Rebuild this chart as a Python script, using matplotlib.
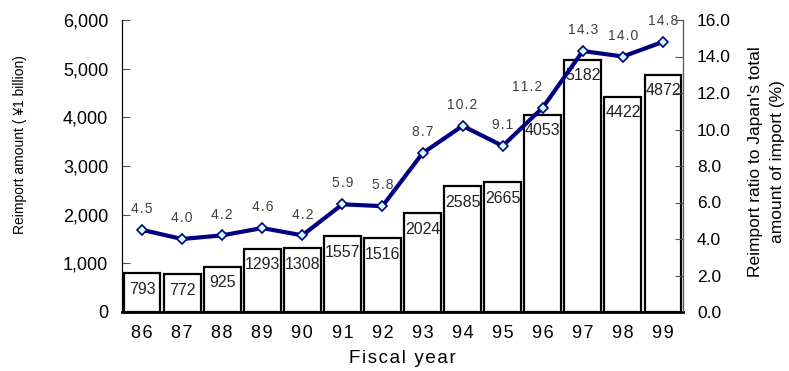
import matplotlib
matplotlib.use("Agg")
import matplotlib.pyplot as plt
import numpy as np

plt.rcParams['font.family'] = ['Liberation Sans', 'DejaVu Sans']

years = ['86', '87', '88', '89', '90', '91', '92', '93', '94', '95', '96', '97', '98', '99']
amounts = [793, 772, 925, 1293, 1308, 1557, 1516, 2024, 2585, 2665, 4053, 5182, 4422, 4872]
ratios = [4.5, 4.0, 4.2, 4.6, 4.2, 5.9, 5.8, 8.7, 10.2, 9.1, 11.2, 14.3, 14.0, 14.8]


def spaced(s, sp='\u200a'):
    return sp.join(s)


fig = plt.figure(figsize=(7.89, 3.71), dpi=100)
ax = fig.add_axes([122/789, 59/371, (683-122)/789, (312-20)/371])
x = np.arange(len(years))
bars = ax.bar(x, amounts, width=0.92, color='white', edgecolor='black', linewidth=1.6)
for xi, v in zip(x, amounts):
    ax.annotate(str(v), (xi, v), xytext=(0, -6), textcoords='offset points',
                ha='center', va='top', fontsize=11.5, color='#222222')
ax.set_xlim(-0.5, len(years) - 0.5)
ax.set_ylim(0, 6000)
ax.set_yticks(range(0, 6001, 1000))
ax.set_yticklabels([f'{v:,}' for v in range(0, 6001, 1000)], fontsize=13)
ax.set_xticks(x)
ax.set_xticklabels([spaced(y) for y in years], fontsize=13)
ax.tick_params(axis='x', length=0, pad=9)
ax.tick_params(axis='y', direction='in', length=6, color='#555555', pad=10)
ax.spines['top'].set_visible(False)
ax.spines['left'].set_color('#555555')
ax.spines['bottom'].set_linewidth(2)
ax.set_xlabel(spaced('Fiscal year'), fontsize=13.5, labelpad=6)
ax.set_ylabel('Reimport amount ( \u00a51 billion)', fontsize=10)
ax.yaxis.set_label_coords(-0.169, 0.572)

ax2 = ax.twinx()
ax2.plot(x, ratios, color='#000080', linewidth=3, marker='D', markersize=5,
         markerfacecolor='#ccffff', markeredgecolor='#000080', markeredgewidth=1.2)
for i, (xi, r) in enumerate(zip(x, ratios)):
    dx = -11 if i == 10 else 0
    ax2.annotate(spaced(f'{r:.1f}'), (xi, r), xytext=(dx, 15), textcoords='offset points',
                 ha='center', va='center', fontsize=10, color='#404040')
ax2.set_ylim(0, 16)
ax2.set_yticks(np.arange(0, 16.1, 2))
ax2.set_yticklabels([f'{v:.1f}' for v in np.arange(0, 16.1, 2)], fontsize=12.5)
ax2.tick_params(axis='y', direction='in', length=6, color='#555555', pad=10)
ax2.spines['top'].set_visible(False)
ax2.spines['right'].set_color('#555555')
ax2.set_ylabel("Reimport ratio to Japan's total\namount of import (%)", fontsize=12.5,
               multialignment='center', linespacing=1.6)
ax2.yaxis.set_label_coords(1.116, 0.514)

fig.savefig('out.png', dpi=100)
